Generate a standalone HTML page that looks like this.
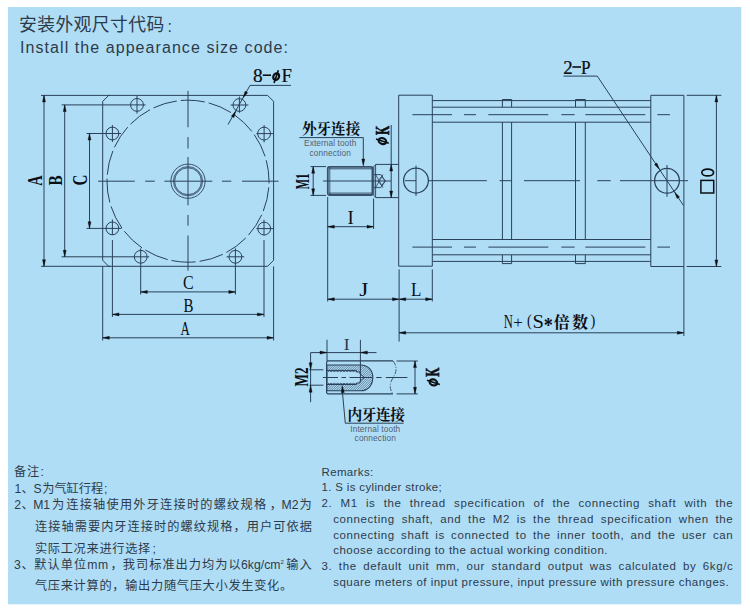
<!DOCTYPE html>
<html><head><meta charset="utf-8"><title>Install the appearance size code</title>
<style>
html,body{margin:0;padding:0;background:#fff;}
body{width:750px;height:614px;overflow:hidden;font-family:"Liberation Sans",sans-serif;position:relative;}
svg{position:absolute;left:0;top:0;display:block}
.t{position:absolute;white-space:nowrap;color:#2c3b4a;font-family:"Liberation Sans",sans-serif;}
.j{text-align:justify;text-align-last:justify;white-space:normal}
</style></head><body>
<svg width="750" height="614" viewBox="0 0 750 614">
<rect x="0" y="0" width="750" height="614" fill="#fff"/>
<rect x="8" y="7" width="733.3" height="597.3" fill="#b0ddf6"/>
<g fill="none" stroke="#294159" stroke-width="1" stroke-linecap="butt" stroke-linejoin="miter">
<path d="M108.7 95.4L267.6 95.4L273.6 101.4L273.6 260.3L267.6 266.3L108.7 266.3L102.7 260.3L102.7 101.4Z"/>
<circle cx="188" cy="181.2" r="81" stroke-dasharray="24.27 4" stroke-dashoffset="22"/>
<circle cx="188" cy="181.2" r="17.1" stroke-width="0.9"/>
<circle cx="188" cy="181.2" r="14.6" stroke-width="0.8"/>
<circle cx="188" cy="181.2" r="13.4" stroke-width="0.8"/>
<circle cx="188" cy="181.2" r="14" stroke-width="1" stroke="#5b7690"/>
<path d="M98 181.2L134.8 181.2"/>
<path d="M145.2 181.2L154.8 181.2"/>
<path d="M164.4 181.2L212.2 181.2"/>
<path d="M222 181.2L231.3 181.2"/>
<path d="M242 181.2L278.5 181.2"/>
<path d="M188 90.9L188 127.3"/>
<path d="M188 137L188 148.5"/>
<path d="M188 157L188 205.3"/>
<path d="M188 215L188 225.7"/>
<path d="M188 235.5L188 270.6"/>
<circle cx="137" cy="104.9" r="6.4"/>
<circle cx="239.4" cy="105" r="6.4"/>
<circle cx="140.7" cy="256.8" r="6.4"/>
<circle cx="235.4" cy="256.8" r="6.4"/>
<circle cx="112.4" cy="133.5" r="6.4"/>
<circle cx="112.4" cy="228.4" r="6.4"/>
<circle cx="264.1" cy="133.6" r="6.4"/>
<circle cx="264.2" cy="228.6" r="6.4"/>
<path d="M61.6 104.9L145.6 104.9"/>
<path d="M137 96L137 113.6"/>
<path d="M230.6 105L248.4 105"/>
<path d="M239.4 96.6L239.4 112.8"/>
<path d="M86.6 133.5L121 133.5"/>
<path d="M112.4 125L112.4 142"/>
<path d="M256.4 133.6L273.6 133.6"/>
<path d="M264.1 125L264.1 142.4"/>
<path d="M86.6 228.4L121.5 228.4"/>
<path d="M112.4 219.5L112.4 235"/>
<path d="M112.4 240L112.4 317"/>
<path d="M256.4 228.6L273.6 228.6"/>
<path d="M264 219.8L264 235.5"/>
<path d="M264 240L264 317"/>
<path d="M61.6 256.8L149.2 256.8"/>
<path d="M140.7 248.3L140.7 294.5"/>
<path d="M226.6 256.8L244.2 256.8"/>
<path d="M235.4 248.3L235.4 294.5"/>
<path d="M41 95.4L110 95.4"/>
<path d="M41 266.3L110 266.3"/>
<path d="M102.7 266.3L102.7 340.5"/>
<path d="M273.6 266.3L273.6 340.5"/>
<path d="M44 95.4L44 266.3"/>
<path d="M44 95.4L45.5 102L42.5 102Z" fill="#0b0f14" stroke="#0b0f14" stroke-width="0.4"/>
<path d="M44 266.3L42.5 259.7L45.5 259.7Z" fill="#0b0f14" stroke="#0b0f14" stroke-width="0.4"/>
<path d="M64.7 104.9L64.7 256.8"/>
<path d="M64.7 104.9L66.2 111.5L63.2 111.5Z" fill="#0b0f14" stroke="#0b0f14" stroke-width="0.4"/>
<path d="M64.7 256.8L63.2 250.2L66.2 250.2Z" fill="#0b0f14" stroke="#0b0f14" stroke-width="0.4"/>
<path d="M89.5 133.5L89.5 228.4"/>
<path d="M89.5 133.5L91 140.1L88 140.1Z" fill="#0b0f14" stroke="#0b0f14" stroke-width="0.4"/>
<path d="M89.5 228.4L88 221.8L91 221.8Z" fill="#0b0f14" stroke="#0b0f14" stroke-width="0.4"/>
<path d="M140.7 291.9L235.4 291.9"/>
<path d="M140.7 291.9L147.3 290.4L147.3 293.4Z" fill="#0b0f14" stroke="#0b0f14" stroke-width="0.4"/>
<path d="M235.4 291.9L228.8 293.4L228.8 290.4Z" fill="#0b0f14" stroke="#0b0f14" stroke-width="0.4"/>
<path d="M112.4 314.4L264 314.4"/>
<path d="M112.4 314.4L119 312.9L119 315.9Z" fill="#0b0f14" stroke="#0b0f14" stroke-width="0.4"/>
<path d="M264 314.4L257.4 315.9L257.4 312.9Z" fill="#0b0f14" stroke="#0b0f14" stroke-width="0.4"/>
<path d="M102.7 337.8L273.6 337.8"/>
<path d="M102.7 337.8L109.3 336.3L109.3 339.3Z" fill="#0b0f14" stroke="#0b0f14" stroke-width="0.4"/>
<path d="M273.6 337.8L267 339.3L267 336.3Z" fill="#0b0f14" stroke="#0b0f14" stroke-width="0.4"/>
<path d="M291 85.4L250 85.4L228 124.6"/>
<path d="M243.2 97.6L245.07 91.2L247.69 92.67Z" fill="#0b0f14" stroke="#0b0f14" stroke-width="0.4"/>
<path d="M235.8 111.2L233.93 117.6L231.31 116.13Z" fill="#0b0f14" stroke="#0b0f14" stroke-width="0.4"/>
<path d="M299.3 137.6L363.3 137.6L363.3 160"/>
<path d="M363.3 166L361.8 159L364.8 159Z" fill="#0b0f14" stroke="#0b0f14" stroke-width="0.4"/>
<path d="M329.3 166.8H371.4Q372.4 166.8 372.4 167.8V194Q372.4 195 371.4 195H329.3Q327.8 195 327.8 193.5V168.3Q327.8 166.8 329.3 166.8Z" stroke-width="1.8" stroke="#3a516a"/>
<path d="M329 168.8L372 168.8" stroke-width="0.9"/>
<path d="M329 193.1L372 193.1" stroke-width="0.9"/>
<path d="M329.8 167L329.8 195" stroke-width="0.8"/>
<path d="M323 181L391 181"/>
<path d="M398.6 164.4L375.8 164.4L373.8 166.6L373.8 195.4L375.8 197.6L398.6 197.6"/>
<path d="M375.6 164.6L375.6 197.4" stroke-width="0.9"/>
<path d="M373.8 174.6L380.8 174.6L385.4 181L380.8 187.6L373.8 187.6" stroke-width="0.9"/>
<path d="M375.6 174.6L383 187.6" stroke-width="0.8"/>
<path d="M375.6 187.6L383 174.6" stroke-width="0.8"/>
<path d="M378 181L381.6 176.4L385.2 181L381.6 185.6Z" stroke-width="0.8"/>
<path d="M310.5 166.6L326 166.6"/>
<path d="M310.5 195.4L326 195.4"/>
<path d="M313.2 166.6L313.2 195.4"/>
<path d="M313.2 166.6L314.7 173.2L311.7 173.2Z" fill="#0b0f14" stroke="#0b0f14" stroke-width="0.4"/>
<path d="M313.2 195.4L311.7 188.8L314.7 188.8Z" fill="#0b0f14" stroke="#0b0f14" stroke-width="0.4"/>
<path d="M391.2 125L391.2 197.6"/>
<path d="M391.2 164.4L392.7 171L389.7 171Z" fill="#0b0f14" stroke="#0b0f14" stroke-width="0.4"/>
<path d="M391.2 197.6L389.7 191L392.7 191Z" fill="#0b0f14" stroke="#0b0f14" stroke-width="0.4"/>
<path d="M327.7 197L327.7 301.5"/>
<path d="M373.6 198.5L373.6 229"/>
<path d="M327.7 226.7L373.6 226.7"/>
<path d="M327.7 226.7L334.3 225.2L334.3 228.2Z" fill="#0b0f14" stroke="#0b0f14" stroke-width="0.4"/>
<path d="M373.6 226.7L367 228.2L367 225.2Z" fill="#0b0f14" stroke="#0b0f14" stroke-width="0.4"/>
<path d="M327.7 299.2L399.1 299.2"/>
<path d="M327.7 299.2L334.3 297.7L334.3 300.7Z" fill="#0b0f14" stroke="#0b0f14" stroke-width="0.4"/>
<path d="M399.1 299.2L392.5 300.7L392.5 297.7Z" fill="#0b0f14" stroke="#0b0f14" stroke-width="0.4"/>
<path d="M399.1 299.2L432.3 299.2"/>
<path d="M399.1 299.2L405.7 297.7L405.7 300.7Z" fill="#0b0f14" stroke="#0b0f14" stroke-width="0.4"/>
<path d="M432.3 299.2L425.7 300.7L425.7 297.7Z" fill="#0b0f14" stroke="#0b0f14" stroke-width="0.4"/>
<path d="M432.3 269.4L432.3 301.5"/>
<path d="M399.1 269.4L399.1 341.6"/>
<path d="M398.7 95.2L432.3 95.2L432.3 266.2L398.7 266.2Z"/>
<path d="M650.8 95.3L683.9 95.3L683.9 266.5L650.8 266.5Z"/>
<path d="M432.3 100.6L650.8 100.6"/>
<path d="M432.3 107.2L650.8 107.2"/>
<path d="M432.3 122.2L650.8 122.2"/>
<path d="M432.3 239.5L650.8 239.5"/>
<path d="M432.3 254.8L650.8 254.8"/>
<path d="M432.3 261.4L650.8 261.4"/>
<path d="M502.4 107.2L502.4 99.5L511.6 99.5L511.6 107.2"/>
<path d="M502.4 122.2L502.4 239.5"/>
<path d="M511.6 122.2L511.6 239.5"/>
<path d="M502.4 254.8L502.4 263.6L511.6 263.6L511.6 254.8"/>
<path d="M575.5 107.2L575.5 99.5L585.3 99.5L585.3 107.2"/>
<path d="M575.5 122.2L575.5 239.5"/>
<path d="M585.3 122.2L585.3 239.5"/>
<path d="M575.5 254.8L575.5 263.6L585.3 263.6L585.3 254.8"/>
<path d="M412.4 114.7L452 114.7"/>
<path d="M464 114.7L476 114.7"/>
<path d="M488.3 114.7L548.3 114.7"/>
<path d="M561.3 114.7L574.7 114.7"/>
<path d="M585.3 114.7L645.3 114.7"/>
<path d="M657.3 114.7L670 114.7"/>
<path d="M412.4 247.1L452 247.1"/>
<path d="M464 247.1L476 247.1"/>
<path d="M488.3 247.1L548.3 247.1"/>
<path d="M561.3 247.1L574.7 247.1"/>
<path d="M585.3 247.1L645.3 247.1"/>
<path d="M657.3 247.1L670 247.1"/>
<circle cx="416" cy="180.6" r="12.4" stroke-width="1.25"/>
<circle cx="667" cy="180.8" r="12.4" stroke-width="1.25"/>
<path d="M416 165.5L416 196"/>
<path d="M667 165L667 196.8"/>
<path d="M405 180.7L416 180.7"/>
<path d="M428.4 180.7L486.8 180.7"/>
<path d="M499.5 180.7L511.5 180.7"/>
<path d="M524 180.7L580 180.7"/>
<path d="M597.3 180.7L610.7 180.7"/>
<path d="M620 180.7L688 180.7"/>
<path d="M563.5 76.1L597.3 76.1L683.6 205.6"/>
<path d="M659.3 169.2L654.45 164.62L656.94 162.96Z" fill="#0b0f14" stroke="#0b0f14" stroke-width="0.4"/>
<path d="M674.7 192.3L679.55 196.88L677.06 198.54Z" fill="#0b0f14" stroke="#0b0f14" stroke-width="0.4"/>
<path d="M686.7 95.3L721.3 95.3"/>
<path d="M686.7 266.5L721.3 266.5"/>
<path d="M716.4 95.3L716.4 266.5"/>
<path d="M716.4 95.3L717.9 101.9L714.9 101.9Z" fill="#0b0f14" stroke="#0b0f14" stroke-width="0.4"/>
<path d="M716.4 266.5L714.9 259.9L717.9 259.9Z" fill="#0b0f14" stroke="#0b0f14" stroke-width="0.4"/>
<rect x="700.9" y="180.4" width="12.8" height="12.6" stroke="#0b0f14" stroke-width="1.5"/>
<ellipse cx="707.7" cy="172.5" rx="5.9" ry="3.4" stroke="#0b0f14" stroke-width="1.7"/>
<path d="M683.9 266.5L683.9 336"/>
<path d="M399.1 332.8L683.9 332.8"/>
<path d="M399.1 332.8L405.7 331.3L405.7 334.3Z" fill="#0b0f14" stroke="#0b0f14" stroke-width="0.4"/>
<path d="M683.9 332.8L677.3 334.3L677.3 331.3Z" fill="#0b0f14" stroke="#0b0f14" stroke-width="0.4"/>
<path d="M393 360.9L327.8 360.9L326.6 362.1L326.6 392.7L327.8 393.9L393 393.9" stroke-width="1.1"/>
<path d="M396.6 361L417.8 361"/>
<path d="M396.6 393.9L417.8 393.9"/>
<path d="M415 361L415 393.9"/>
<path d="M415 361L416.5 367.6L413.5 367.6Z" fill="#0b0f14" stroke="#0b0f14" stroke-width="0.4"/>
<path d="M415 393.9L413.5 387.3L416.5 387.3Z" fill="#0b0f14" stroke="#0b0f14" stroke-width="0.4"/>
<clipPath id="hc"><path d="M326.8 365H360.5C368.5 365 372.8 370.8 372.8 377.5C372.8 384.5 368.5 390.8 360.5 390.8H326.8Z M326.8 370.4H356.4V372H360V374L364.6 377.5L360 381V383H356.4V384.5H326.8Z" clip-rule="evenodd"/></clipPath>
<path d="M228 395L263 360M230.3 395L265.3 360M232.6 395L267.6 360M234.9 395L269.9 360M237.2 395L272.2 360M239.5 395L274.5 360M241.8 395L276.8 360M244.1 395L279.1 360M246.4 395L281.4 360M248.7 395L283.7 360M251 395L286 360M253.3 395L288.3 360M255.6 395L290.6 360M257.9 395L292.9 360M260.2 395L295.2 360M262.5 395L297.5 360M264.8 395L299.8 360M267.1 395L302.1 360M269.4 395L304.4 360M271.7 395L306.7 360M274 395L309 360M276.3 395L311.3 360M278.6 395L313.6 360M280.9 395L315.9 360M283.2 395L318.2 360M285.5 395L320.5 360M287.8 395L322.8 360M290.1 395L325.1 360M292.4 395L327.4 360M294.7 395L329.7 360M297 395L332 360M299.3 395L334.3 360M301.6 395L336.6 360M303.9 395L338.9 360M306.2 395L341.2 360M308.5 395L343.5 360M310.8 395L345.8 360M313.1 395L348.1 360M315.4 395L350.4 360M317.7 395L352.7 360M320 395L355 360M322.3 395L357.3 360M324.6 395L359.6 360M326.9 395L361.9 360M329.2 395L364.2 360M331.5 395L366.5 360M333.8 395L368.8 360M336.1 395L371.1 360M338.4 395L373.4 360M340.7 395L375.7 360M343 395L378 360M345.3 395L380.3 360M347.6 395L382.6 360M349.9 395L384.9 360M352.2 395L387.2 360M354.5 395L389.5 360M356.8 395L391.8 360M359.1 395L394.1 360M361.4 395L396.4 360M363.7 395L398.7 360M366 395L401 360M368.3 395L403.3 360M370.6 395L405.6 360M372.9 395L407.9 360M375.2 395L410.2 360M377.5 395L412.5 360M379.8 395L414.8 360M382.1 395L417.1 360M384.4 395L419.4 360M386.7 395L421.7 360M389 395L424 360M391.3 395L426.3 360M393.6 395L428.6 360M395.9 395L430.9 360M398.2 395L433.2 360M400.5 395L435.5 360M402.8 395L437.8 360M405.1 395L440.1 360M407.4 395L442.4 360M409.7 395L444.7 360M412 395L447 360M414.3 395L449.3 360M416.6 395L451.6 360M418.9 395L453.9 360M421.2 395L456.2 360M423.5 395L458.5 360M425.8 395L460.8 360M428.1 395L463.1 360M430.4 395L465.4 360M432.7 395L467.7 360M435 395L470 360M437.3 395L472.3 360M439.6 395L474.6 360M441.9 395L476.9 360M444.2 395L479.2 360M446.5 395L481.5 360M448.8 395L483.8 360M451.1 395L486.1 360M453.4 395L488.4 360M455.7 395L490.7 360M458 395L493 360M460.3 395L495.3 360M462.6 395L497.6 360M464.9 395L499.9 360M467.2 395L502.2 360M469.5 395L504.5 360M471.8 395L506.8 360M474.1 395L509.1 360M476.4 395L511.4 360M478.7 395L513.7 360" stroke-width="0.65" stroke="#3a5570" clip-path="url(#hc)"/>
<path d="M326.8 365H360.5C368.5 365 372.8 370.8 372.8 377.5C372.8 384.5 368.5 390.8 360.5 390.8H326.8Z" stroke-width="1.1"/>
<path d="M326.8 370.4H356.4V372H360V374L364.6 377.5L360 381V383H356.4V384.5H326.8Z" stroke-width="1"/>
<path d="M328 371.6l1.6 -0.9l1.6 0.9l1.6 -0.9l1.6 0.9l1.6 -0.9l1.6 0.9l1.6 -0.9l1.6 0.9l1.6 -0.9l1.6 0.9l1.6 -0.9l1.6 0.9l1.6 -0.9l1.6 0.9l1.6 -0.9l1.6 0.9l1.6 -0.9l1.6 0.9" stroke-width="0.9"/>
<path d="M328 383.3l1.6 0.9l1.6 -0.9l1.6 0.9l1.6 -0.9l1.6 0.9l1.6 -0.9l1.6 0.9l1.6 -0.9l1.6 0.9l1.6 -0.9l1.6 0.9l1.6 -0.9l1.6 0.9l1.6 -0.9l1.6 0.9l1.6 -0.9l1.6 0.9l1.6 -0.9" stroke-width="0.9"/>
<path d="M322.8 377.5L338 377.5"/>
<path d="M341.5 377.5L346 377.5"/>
<path d="M349.5 377.5L372.5 377.5"/>
<path d="M376.2 377.5L381.6 377.5"/>
<path d="M385.8 377.5L407.4 377.5"/>
<path d="M393 361C396.5 365 397.5 371 393.2 377.5C389 384 389.5 389.5 393 393.9" stroke-width="0.8" stroke-dasharray="5 1.5 1 1.5"/>
<path d="M327 339.8L327 361"/>
<path d="M360.4 339.8L360.4 381.8"/>
<path d="M310.6 402.2L310.6 352.6L376.5 352.6"/>
<path d="M327 352.6L320 354.1L320 351.1Z" fill="#0b0f14" stroke="#0b0f14" stroke-width="0.4"/>
<path d="M360.4 352.6L367.4 351.1L367.4 354.1Z" fill="#0b0f14" stroke="#0b0f14" stroke-width="0.4"/>
<path d="M309.4 369.8L323.4 369.8"/>
<path d="M309.4 385.2L323.4 385.2"/>
<path d="M310.6 369.8L309.1 362.8L312.1 362.8Z" fill="#0b0f14" stroke="#0b0f14" stroke-width="0.4"/>
<path d="M310.6 385.2L312.1 392.2L309.1 392.2Z" fill="#0b0f14" stroke="#0b0f14" stroke-width="0.4"/>
<path d="M342.4 392L345.3 423.2L403.6 423.2"/>
<path d="M342.2 385.6L344.3 392.44L341.32 392.7Z" fill="#0b0f14" stroke="#0b0f14" stroke-width="0.4"/>
<path d="M262.8 75.2H271" stroke="#0b0f14" stroke-width="1.6"/>
<g transform="translate(276.2 76.6) rotate(0)" stroke="#0b0f14"><ellipse cx="0" cy="0" rx="2.9" ry="3.3" stroke-width="2.2" transform="skewX(-8)"/><path d="M2.14 -6.3L-2.14 6.3" stroke-width="1.65"/></g>
<path d="M572.4 67H581" stroke="#0b0f14" stroke-width="1.6"/>
<g transform="translate(382.4 141.1) rotate(-90)" stroke="#0b0f14"><ellipse cx="0" cy="0" rx="3" ry="3.8" stroke-width="2.1" transform="skewX(-8)"/><path d="M2.18 -6.4L-2.18 6.4" stroke-width="1.58"/></g>
<g transform="translate(433.4 382.4) rotate(-90)" stroke="#0b0f14"><ellipse cx="0" cy="0" rx="3" ry="3.8" stroke-width="2.1" transform="skewX(-8)"/><path d="M2.18 -6.4L-2.18 6.4" stroke-width="1.58"/></g>
</g>
<g>
<text transform="matrix(0 -0.1432 0.2015 0 41.5 185.84)" font-family="Liberation Serif" font-weight="bold" font-size="100" fill="#0b0f14">A</text>
<text transform="matrix(0 -0.151 0.1977 0 62.24 185.45)" font-family="Liberation Serif" font-weight="bold" font-size="100" fill="#0b0f14">B</text>
<text transform="matrix(0 -0.1507 0.1994 0 86.71 185.54)" font-family="Liberation Serif" font-weight="bold" font-size="100" fill="#0b0f14">C</text>
<text transform="matrix(0.1594 0 0 0.1965 183.05 289.21)" font-family="Liberation Serif" font-weight="normal" font-size="100" fill="#0b0f14">C</text>
<text transform="matrix(0.1493 0 0 0.1901 183.57 311.54)" font-family="Liberation Serif" font-weight="normal" font-size="100" fill="#0b0f14">B</text>
<text transform="matrix(0.1291 0 0 0.1924 180.57 334.9)" font-family="Liberation Serif" font-weight="normal" font-size="100" fill="#0b0f14">A</text>
<text transform="matrix(0.1935 0 0 0.1838 252.96 81.62)" font-family="Liberation Serif" font-weight="normal" font-size="100" fill="#0b0f14" stroke="#0b0f14" stroke-width="1.2">8</text>
<text transform="matrix(0.1873 0 0 0.1787 281.46 81.5)" font-family="Liberation Serif" font-weight="normal" font-size="100" fill="#0b0f14" stroke="#0b0f14" stroke-width="1.2">F</text>
<text transform="matrix(0.1896 0 0 0.1827 563.17 73.5)" font-family="Liberation Serif" font-weight="normal" font-size="100" fill="#0b0f14" stroke="#0b0f14" stroke-width="1.2">2</text>
<text transform="matrix(0.1724 0 0 0.1878 581.1 73.7)" font-family="Liberation Serif" font-weight="normal" font-size="100" fill="#0b0f14" stroke="#0b0f14" stroke-width="1.2">P</text>
<text x="350.65" y="223.7" text-anchor="middle" font-family="Liberation Serif, serif" font-size="18.8" fill="#0b0f14">I</text>
<text transform="matrix(0.2333 0 0 0.1986 359.21 296.21)" font-family="Liberation Serif" font-weight="normal" font-size="100" fill="#0b0f14">J</text>
<text transform="matrix(0.1705 0 0 0.1955 411.11 296)" font-family="Liberation Serif" font-weight="normal" font-size="100" fill="#0b0f14">L</text>
<text x="346.6" y="350.2" text-anchor="middle" font-family="Liberation Serif, serif" font-size="17.5" fill="#2a3a4c">I</text>
<text transform="matrix(0 -0.1091 0.1833 0 309.4 189.19)" font-family="Liberation Serif" font-weight="bold" font-size="100" fill="#0b0f14">M1</text>
<text transform="matrix(0 -0.1322 0.1948 0 308.2 386.53)" font-family="Liberation Serif" font-weight="bold" font-size="100" fill="#0b0f14">M2</text>
<text transform="matrix(0 -0.1182 0.1894 0 388.8 135.1)" font-family="Liberation Serif" font-weight="bold" font-size="100" fill="#0b0f14" stroke="#0b0f14" stroke-width="3">K</text>
<text transform="matrix(0 -0.1169 0.1863 0 439.4 376.8)" font-family="Liberation Serif" font-weight="bold" font-size="100" fill="#0b0f14" stroke="#0b0f14" stroke-width="3">K</text>
<text transform="matrix(0.1268 0 0 0.1787 503.73 327.7)" font-family="Liberation Serif" font-weight="normal" font-size="100" fill="#0b0f14">N</text>
<text transform="matrix(0.1676 0 0 0.1674 513.37 327.86)" font-family="Liberation Serif" font-weight="normal" font-size="100" fill="#0b0f14">+</text>
<text transform="matrix(0.1402 0 0 0.1698 526.98 326.38)" font-family="Liberation Serif" font-weight="normal" font-size="100" fill="#0b0f14">(</text>
<text transform="matrix(0.206 0 0 0.1801 532.52 327.72)" font-family="Liberation Serif" font-weight="normal" font-size="100" fill="#0b0f14">S</text>
<text transform="matrix(0.1823 0 0 0.2175 543.84 331.55)" font-family="Liberation Serif" font-weight="bold" font-size="100" fill="#0b0f14">*</text>
<text x="553.8" y="327.6" font-family="'Liberation Serif','Noto Serif CJK SC',serif" font-weight="bold" font-size="16" fill="#0b0f14" textLength="34.3" lengthAdjust="spacing">倍数</text>
<text transform="matrix(0.1441 0 0 0.1698 590.54 326.38)" font-family="Liberation Serif" font-weight="normal" font-size="100" fill="#0b0f14">)</text>
<text x="302" y="134" font-family="'Liberation Serif','Noto Serif CJK SC',serif" font-weight="bold" font-size="14.6" fill="#0b0f14" textLength="58.25" lengthAdjust="spacing">外牙连接</text>
<text x="347.4" y="420.3" font-family="'Liberation Serif','Noto Serif CJK SC',serif" font-weight="bold" font-size="14.7" fill="#0b0f14" textLength="57.45" lengthAdjust="spacing">内牙连接</text>
<text x="304.1" y="146.2" font-family="Liberation Sans" font-size="8.3" fill="#50606f" textLength="52.2" lengthAdjust="spacing">External tooth</text>
<text x="309.4" y="156" font-family="Liberation Sans" font-size="8.3" fill="#50606f" textLength="41.4" lengthAdjust="spacing">connection</text>
<text x="350.3" y="431.6" font-family="Liberation Sans" font-size="8.3" fill="#50606f" textLength="49.9" lengthAdjust="spacing">Internal tooth</text>
<text x="354.6" y="441.4" font-family="Liberation Sans" font-size="8.3" fill="#50606f" textLength="41.3" lengthAdjust="spacing">connection</text>
<text x="18.9" y="30.9" font-family="'Liberation Sans','Noto Sans CJK SC',sans-serif" font-size="17.8" fill="#2c3b4a" textLength="145.48" lengthAdjust="spacing">安装外观尺寸代码</text>
<text x="167.4" y="31.6" font-family="Liberation Sans" font-size="16" fill="#2c3b4a">:</text>
<text x="20" y="53.2" font-family="Liberation Sans" font-size="16" fill="#2c3b4a" textLength="268" lengthAdjust="spacing">Install the appearance size code:</text>
<text x="14" y="476.3" font-family="'Liberation Sans','Noto Sans CJK SC',sans-serif" font-size="12.2" fill="#2c3b4a" textLength="25.1" lengthAdjust="spacing">备注</text>
<text x="40.6" y="476.3" font-family="Liberation Sans" font-size="12.2" fill="#2c3b4a">:</text>
<text x="14.6" y="492.6" font-family="Liberation Sans" font-size="12.2" fill="#2c3b4a">1</text>
<text x="21.6" y="492.6" font-family="'Liberation Sans','Noto Sans CJK SC',sans-serif" font-size="12.2" fill="#2c3b4a">、</text>
<text x="33.6" y="492.6" font-family="Liberation Sans" font-size="12.2" fill="#2c3b4a">S</text>
<text x="42.2" y="492.6" font-family="'Liberation Sans','Noto Sans CJK SC',sans-serif" font-size="12.2" fill="#2c3b4a" textLength="61" lengthAdjust="spacing">为气缸行程</text>
<text x="104" y="492.6" font-family="Liberation Sans" font-size="12.2" fill="#2c3b4a">;</text>
<text x="14.2" y="509.4" font-family="Liberation Sans" font-size="12.2" fill="#2c3b4a">2</text>
<text x="21.6" y="509.4" font-family="'Liberation Sans','Noto Sans CJK SC',sans-serif" font-size="12.2" fill="#2c3b4a">、</text>
<text x="33.3" y="509.4" font-family="Liberation Sans" font-size="12.2" fill="#2c3b4a" textLength="16.8" lengthAdjust="spacing">M1</text>
<text x="52" y="509.4" font-family="'Liberation Sans','Noto Sans CJK SC',sans-serif" font-size="12.2" fill="#2c3b4a">为</text>
<text x="66.3" y="509.4" font-family="'Liberation Sans','Noto Sans CJK SC',sans-serif" font-size="12.2" fill="#2c3b4a" textLength="199.8" lengthAdjust="spacing">连接轴使用外牙连接时的螺纹规格</text>
<text x="269.8" y="509.4" font-family="'Liberation Sans','Noto Sans CJK SC',sans-serif" font-size="12.2" fill="#2c3b4a">，</text>
<text x="281.4" y="509.4" font-family="Liberation Sans" font-size="12.2" fill="#2c3b4a" textLength="17.2" lengthAdjust="spacing">M2</text>
<text x="299.6" y="509.4" font-family="'Liberation Sans','Noto Sans CJK SC',sans-serif" font-size="12.2" fill="#2c3b4a">为</text>
<text x="34.9" y="531.2" font-family="'Liberation Sans','Noto Sans CJK SC',sans-serif" font-size="12.2" fill="#2c3b4a" textLength="277.1" lengthAdjust="spacing">连接轴需要内牙连接时的螺纹规格，用户可依据</text>
<text x="34.9" y="552.6" font-family="'Liberation Sans','Noto Sans CJK SC',sans-serif" font-size="12.2" fill="#2c3b4a" textLength="115.4" lengthAdjust="spacing">实际工况来进行选择</text>
<text x="152.4" y="552.6" font-family="Liberation Sans" font-size="12.2" fill="#2c3b4a">;</text>
<text x="14" y="569.2" font-family="Liberation Sans" font-size="12.2" fill="#2c3b4a">3</text>
<text x="21.6" y="569.2" font-family="'Liberation Sans','Noto Sans CJK SC',sans-serif" font-size="12.2" fill="#2c3b4a">、</text>
<text x="34.3" y="569.2" font-family="'Liberation Sans','Noto Sans CJK SC',sans-serif" font-size="12.2" fill="#2c3b4a" textLength="51.8" lengthAdjust="spacing">默认单位</text>
<text x="87.2" y="569.2" font-family="Liberation Sans" font-size="12.2" fill="#2c3b4a" textLength="21" lengthAdjust="spacing">mm</text>
<text x="110.4" y="569.2" font-family="'Liberation Sans','Noto Sans CJK SC',sans-serif" font-size="12.2" fill="#2c3b4a">，</text>
<text x="122.8" y="569.2" font-family="'Liberation Sans','Noto Sans CJK SC',sans-serif" font-size="12.2" fill="#2c3b4a" textLength="117.8" lengthAdjust="spacing">我司标准出力均为以</text>
<text x="241" y="569.2" font-family="Liberation Sans" font-size="12.2" fill="#2c3b4a" textLength="39.5" lengthAdjust="spacing">6kg/cm</text>
<text x="280.4" y="564" font-family="Liberation Sans" font-size="6" fill="#2c3b4a">2</text>
<text x="286.2" y="569.2" font-family="'Liberation Sans','Noto Sans CJK SC',sans-serif" font-size="12.2" fill="#2c3b4a" textLength="25.5" lengthAdjust="spacing">输入</text>
<text x="34.9" y="589.9" font-family="'Liberation Sans','Noto Sans CJK SC',sans-serif" font-size="12.2" fill="#2c3b4a" textLength="257.3" lengthAdjust="spacing">气压来计算的，输出力随气压大小发生变化。</text>
</g>
</svg>
<div class="t" style="left:321.5px;top:463.62px;font-size:11.5px;line-height:16px;letter-spacing:0.36px;">Remarks:</div>
<div class="t" style="left:321.5px;top:478.92px;font-size:11.5px;line-height:16px;letter-spacing:0.34px;">1. S is cylinder stroke;</div>
<div class="t j" style="left:321.5px;top:495.32px;font-size:11.5px;line-height:16px;letter-spacing:0.6px;width:411.8px;">2. M1 is the thread specification of the connecting shaft with the</div>
<div class="t j" style="left:333.2px;top:511.12px;font-size:11.5px;line-height:16px;letter-spacing:0.6px;width:400.1px;">connecting shaft, and the M2 is the thread specification when the</div>
<div class="t j" style="left:333.2px;top:526.72px;font-size:11.5px;line-height:16px;letter-spacing:0.6px;width:400.1px;">connecting shaft is connected to the inner tooth, and the user can</div>
<div class="t" style="left:333.2px;top:542.42px;font-size:11.5px;line-height:16px;letter-spacing:0.48px;">choose according to the actual working condition.</div>
<div class="t j" style="left:321.5px;top:558.32px;font-size:11.5px;line-height:16px;letter-spacing:0.6px;width:411.8px;">3. the default unit mm, our standard output was calculated by 6kg/c</div>
<div class="t" style="left:333.2px;top:574.12px;font-size:11.5px;line-height:16px;letter-spacing:0.47px;">square meters of input pressure, input pressure with pressure changes.</div>
</body></html>
